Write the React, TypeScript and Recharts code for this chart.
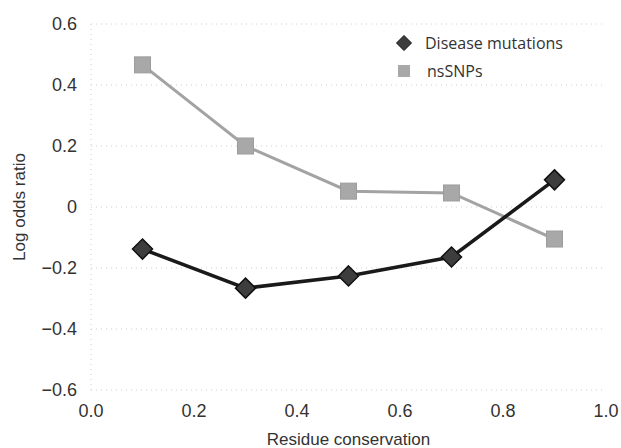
import { LineChart, Line, XAxis, YAxis, CartesianGrid } from 'recharts';

const conservation = [0.1, 0.3, 0.5, 0.7, 0.9];
const diseaseMutations = [-0.138, -0.266, -0.226, -0.164, 0.089];
const nsSNPs = [0.466, 0.2, 0.052, 0.046, -0.105];
const xTicks = [0, 0.2, 0.4, 0.6, 0.8, 1.0];
const yTicks = [-0.6, -0.4, -0.2, 0, 0.2, 0.4, 0.6];

const data = conservation.map((c, i) => ({ c, disease: diseaseMutations[i], snp: nsSNPs[i] }));

const font = '"Liberation Sans", Arial, sans-serif';

const Diamond = (props: any) => {
  const { cx, cy } = props;
  if (cx == null || cy == null) return null;
  const r = 10;
  return (
    <path
      d={`M${cx},${cy - r}L${cx + r},${cy}L${cx},${cy + r}L${cx - r},${cy}Z`}
      fill="#3d3d3d"
      stroke="#111"
      strokeWidth={1.5}
    />
  );
};

const Square = (props: any) => {
  const { cx, cy } = props;
  if (cx == null || cy == null) return null;
  const s = 8;
  return <rect x={cx - s} y={cy - s} width={s * 2} height={s * 2} fill="#a8a8a8" stroke="#9c9c9c" />;
};

const fmtY = (v: number) => (v === 0 ? '0' : v < 0 ? '\u2212' + Math.abs(v).toFixed(1) : v.toFixed(1));

function LegendBox() {
  return (
    <div
      style={{
        position: 'absolute',
        left: 395,
        top: 29,
        fontFamily: '"Open Sans", sans-serif',
        fontSize: 16,
        color: '#333',
        lineHeight: '28px',
      }}
    >
      <div style={{ display: 'flex', alignItems: 'center', height: 28 }}>
        <svg width={18} height={18}>
          <path d="M9,1.5L16.5,9L9,16.5L1.5,9Z" fill="#3d3d3d" stroke="#111" />
        </svg>
        <span style={{ marginLeft: 12 }}>Disease mutations</span>
      </div>
      <div style={{ display: 'flex', alignItems: 'center', height: 28 }}>
        <svg width={18} height={18}>
          <rect x={3} y={3} width={12} height={12} fill="#a8a8a8" />
        </svg>
        <span style={{ marginLeft: 14 }}>nsSNPs</span>
      </div>
    </div>
  );
}

export default function App() {
  return (
    <div style={{ position: 'absolute', left: 0, top: 0, width: 621, height: 448, background: '#fff' }}>
      <LineChart width={621} height={448} data={data} margin={{ top: 24, right: 15, bottom: 0, left: 0 }}>
        <CartesianGrid vertical={false} stroke="#d0d0d0" strokeDasharray="1 4" />
        <XAxis
          type="number"
          dataKey="c"
          domain={[0, 1]}
          ticks={xTicks}
          tickFormatter={(v: number) => v.toFixed(1)}
          axisLine={false}
          tickLine={false}
          tickSize={0}
          tickMargin={14}
          height={58}
          tick={{ fill: '#333', fontSize: 18, fontFamily: font }}
          label={{ value: 'Residue conservation', position: 'insideBottom', offset: 3, fill: '#333', fontSize: 17, fontFamily: font }}
        />
        <YAxis
          type="number"
          domain={[-0.6, 0.6]}
          ticks={yTicks}
          tickFormatter={fmtY}
          axisLine={{ stroke: '#d0d0d0', strokeDasharray: '1 4' }}
          tickLine={false}
          tickSize={0}
          tickMargin={14}
          width={91}
          tick={{ fill: '#333', fontSize: 18, fontFamily: font }}
          label={{ value: 'Log odds ratio', angle: -90, position: 'insideLeft', offset: 19, style: { textAnchor: 'middle' }, fill: '#333', fontSize: 17, fontFamily: font }}
        />
        <Line dataKey="snp" stroke="#a3a3a3" strokeWidth={3} dot={<Square />} isAnimationActive={false} />
        <Line dataKey="disease" stroke="#1a1a1a" strokeWidth={3.5} dot={<Diamond />} isAnimationActive={false} />
      </LineChart>
      <LegendBox />
    </div>
  );
}
